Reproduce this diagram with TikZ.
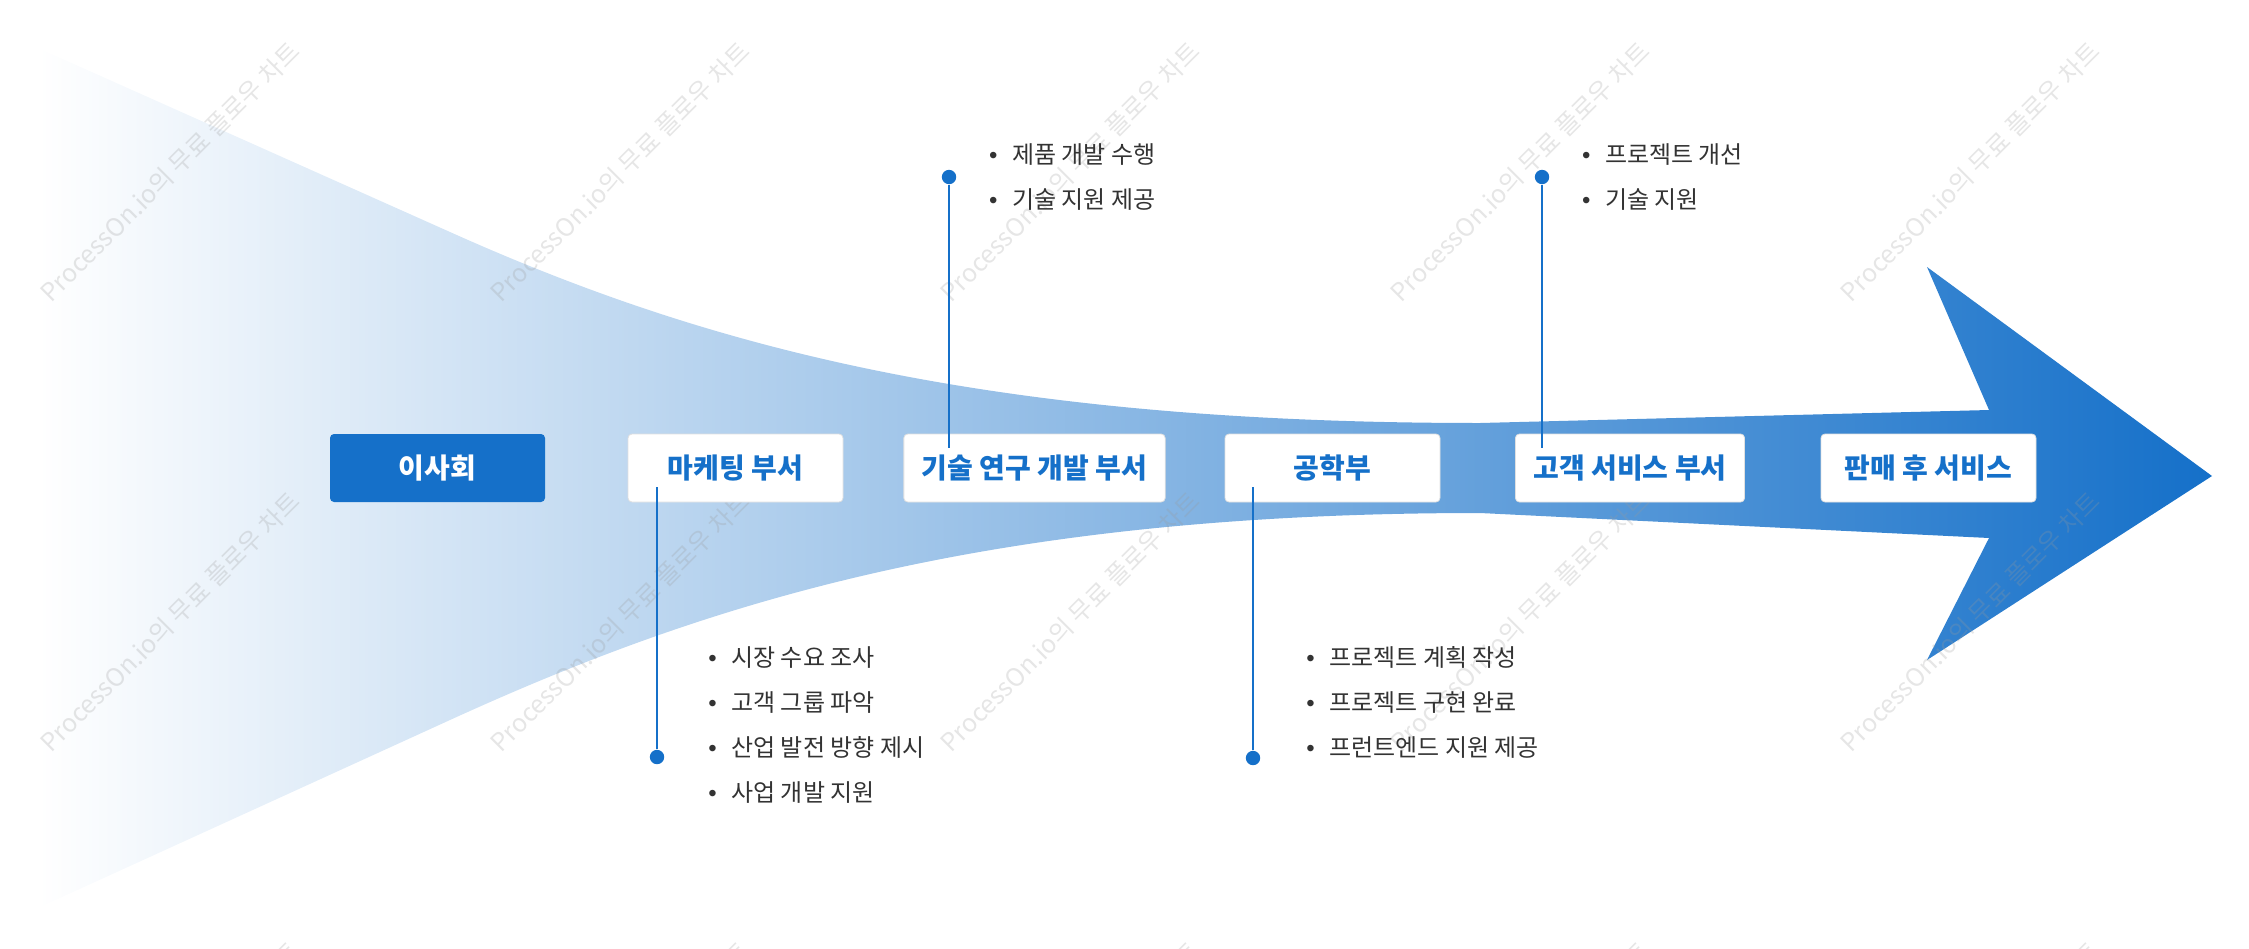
\documentclass[tikz,border=0pt]{standalone}
\usepackage{fontspec}
\setmainfont{Noto Sans CJK KR}
\newfontfamily\bulletfont{Liberation Sans}
\usetikzlibrary{positioning, calc}
\definecolor{kblue}{HTML}{1570C9}
\definecolor{ktext}{HTML}{333333}
\definecolor{kmark}{HTML}{9A9A9A}
\newcommand{\itm}{\makebox[11.5pt][l]{\bulletfont •}}

\begin{document}
\begin{tikzpicture}[x=0.5pt, y=-0.5pt,
    box/.style={draw=black!12, fill=white, rounded corners=2pt, text=kblue, font=\fontsize{14}{16}\selectfont\bfseries, minimum width=107.5pt, minimum height=34pt, inner xsep=9pt, align=center},
    head/.style={box, draw=none, fill=kblue, text=white},
    items/.style={text=ktext, font=\fontsize{12}{22.5}\selectfont, align=left, inner sep=0pt, anchor=west},
    link/.style={kblue, line width=1pt},
    dot/.style={circle, fill=kblue, inner sep=0pt, minimum size=7.2pt},
    wmark/.style={text=kmark, opacity=0.25, rotate=45, font=\fontsize{12.5}{14}\selectfont}]
  \useasboundingbox (0,0) rectangle (2249,948);
  % big arrow
  \shade[left color=white, right color=kblue] (38,48) -- (450,232) .. controls (700,344) and (980,423) .. (1480,423) -- (1989,410) -- (1927,267) -- (2212,476) -- (1927,660) -- (1989,538) -- (1480,513) .. controls (980,513) and (700,606) .. (450,720) -- (38,908) -- cycle;
  % watermark
  \begin{scope}
    \clip (0,0) rectangle (2249,948);
    \foreach \x in {170,620,1070,1520,1970}
      \foreach \y in {172,622,1072}
        \node[wmark] (wm-\x-\y) at (\x,\y) {ProcessOn.io의 무료 플로우 차트};
  \end{scope}
  % departments
  \node[head] (board) at (437.5,468) {이사회};
  \node[box] (mkt) at (735.5,468) {마케팅 부서};
  \node[box] (rnd) at (1034.5,468) {기술 연구 개발 부서};
  \node[box] (eng) at (1332.5,468) {공학부};
  \node[box] (cs) at (1630,468) {고객 서비스 부서};
  \node[box] (after) at (1928.5,468) {판매 후 서비스};
  % tasks
  \node[dot] (d1) at (657,757) {};
  \node[dot] (d2) at (949,177) {};
  \node[dot] (d3) at (1253,758) {};
  \node[dot] (d4) at (1542,177) {};
  \draw[link] (d1) -- ($(mkt.south -| d1)+(0,-15)$);
  \draw[link] (d2) -- ($(rnd.north -| d2)+(0,14)$);
  \draw[link] (d3) -- ($(eng.south -| d3)+(0,-15)$);
  \draw[link] (d4) -- ($(cs.north -| d4)+(0,14)$);
  \node[items] (mktList) at (708,725.5) {\itm 시장 수요 조사\\ \itm 고객 그룹 파악\\ \itm 산업 발전 방향 제시\\ \itm 사업 개발 지원};
  \node[items, right=16pt of d2] (rndList) {\itm 제품 개발 수행\\ \itm 기술 지원 제공};
  \node[items] (engList) at (1306,702.5) {\itm 프로젝트 계획 작성\\ \itm 프로젝트 구현 완료\\ \itm 프런트엔드 지원 제공};
  \node[items, right=16pt of d4] (csList) {\itm 프로젝트 개선\\ \itm 기술 지원};
\end{tikzpicture}
\end{document}
